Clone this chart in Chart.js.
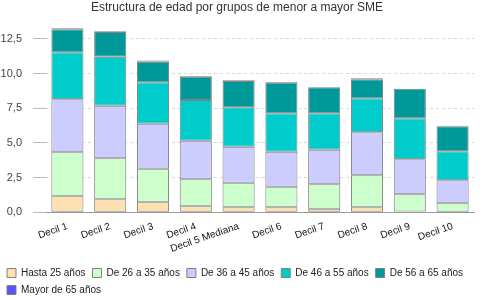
<!DOCTYPE html>
<html>
<head>
<meta charset="utf-8">
<script src="https://cdn.jsdelivr.net/npm/chart.js@4/dist/chart.umd.min.js"></script>
<style>
html,body{margin:0;padding:0;background:#fff;}
#wrap{width:500px;height:300px;position:relative;}
</style>
</head>
<body>
<div id="wrap"><canvas id="c" width="500" height="300"></canvas></div>
<script>
const categories = ["Decil 1","Decil 2","Decil 3","Decil 4","Decil 5 Mediana","Decil 6","Decil 7","Decil 8","Decil 9","Decil 10"];
const hasta25   = [1.15, 0.94, 0.72, 0.43, 0.36, 0.36, 0.26, 0.36, 0.05, 0.00];
const de26a35   = [3.17, 2.95, 2.42, 1.95, 1.77, 1.48, 1.76, 2.31, 1.25, 0.65];
const de36a45   = [3.82, 3.79, 3.24, 2.78, 2.60, 2.53, 2.49, 3.09, 2.52, 1.66];
const de46a55   = [3.39, 3.53, 2.99, 2.93, 2.83, 2.76, 2.62, 2.45, 2.95, 2.08];
const de56a65   = [1.65, 1.78, 1.48, 1.68, 1.90, 2.21, 1.87, 1.37, 2.13, 1.81];
const mayor65   = [0.07, 0.06, 0.08, 0.05, 0.06, 0.07, 0.00, 0.08, 0.00, 0.03];
const seriesNames = ["Hasta 25 años","De 26 a 35 años","De 36 a 45 años","De 46 a 55 años","De 56 a 65 años","Mayor de 65 años"];
const yTicks = [0, 2.5, 5, 7.5, 10, 12.5];

const colors = ["#ffe0b0","#ccffcc","#ccccff","#00cccc","#009999","#5555ff"];
const seriesData = [hasta25, de26a35, de36a45, de46a55, de56a65, mayor65];

const datasets = seriesNames.map((n, i) => ({
  label: n,
  data: seriesData[i],
  backgroundColor: colors[i],
  borderColor: "#808080",
  borderWidth: 1,
  borderSkipped: false,
  categoryPercentage: 1.0,
  barPercentage: 0.75
}));

new Chart(document.getElementById('c'), {
  type: 'bar',
  data: { labels: categories, datasets },
  options: {
    responsive: false,
    animation: false,
    layout: { padding: { left: 0, right: 26, top: 0, bottom: -5 } },
    plugins: {
      title: {
        display: true,
        text: "Estructura de edad por grupos de menor a mayor SME",
        color: "#333",
        font: { family: "Liberation Sans, Arial, sans-serif", size: 12, weight: 'normal' },
        padding: { top: 0, bottom: 10.5 }
      },
      legend: {
        position: 'bottom',
        align: 'start',
        labels: {
          boxWidth: 9, boxHeight: 9,
          padding: 7,
          color: "#222",
          font: { family: "Liberation Sans, Arial, sans-serif", size: 10 }
        }
      },
      tooltip: { enabled: false }
    },
    scales: {
      x: {
        stacked: true,
        grid: { display: false, drawTicks: false },
        border: { display: true, color: "#999" },
        ticks: {
          autoSkip: false,
          minRotation: 19, maxRotation: 19,
          padding: 8,
          color: "#111",
          font: { family: "Liberation Sans, Arial, sans-serif", size: 10 }
        },
        afterFit: (s) => { s.height = 48.7; }
      },
      y: {
        stacked: true,
        min: 0, max: 13.5,
        grid: { color: "#d8d8d8", tickLength: 13, tickColor: "#bbbbbb" },
        border: { display: false, dash: [3, 3] },
        ticks: {
          stepSize: 2.5,
          padding: 11,
          color: "#444",
          font: { family: "Liberation Sans, Arial, sans-serif", size: 11 },
          callback: (v) => Number(v).toFixed(1).replace('.', ',')
        },
        afterBuildTicks: (s) => { s.ticks = yTicks.map(v => ({ value: v })); },
        afterFit: (s) => { s.width = 46; }
      }
    }
  }
});
</script>
</body>
</html>
